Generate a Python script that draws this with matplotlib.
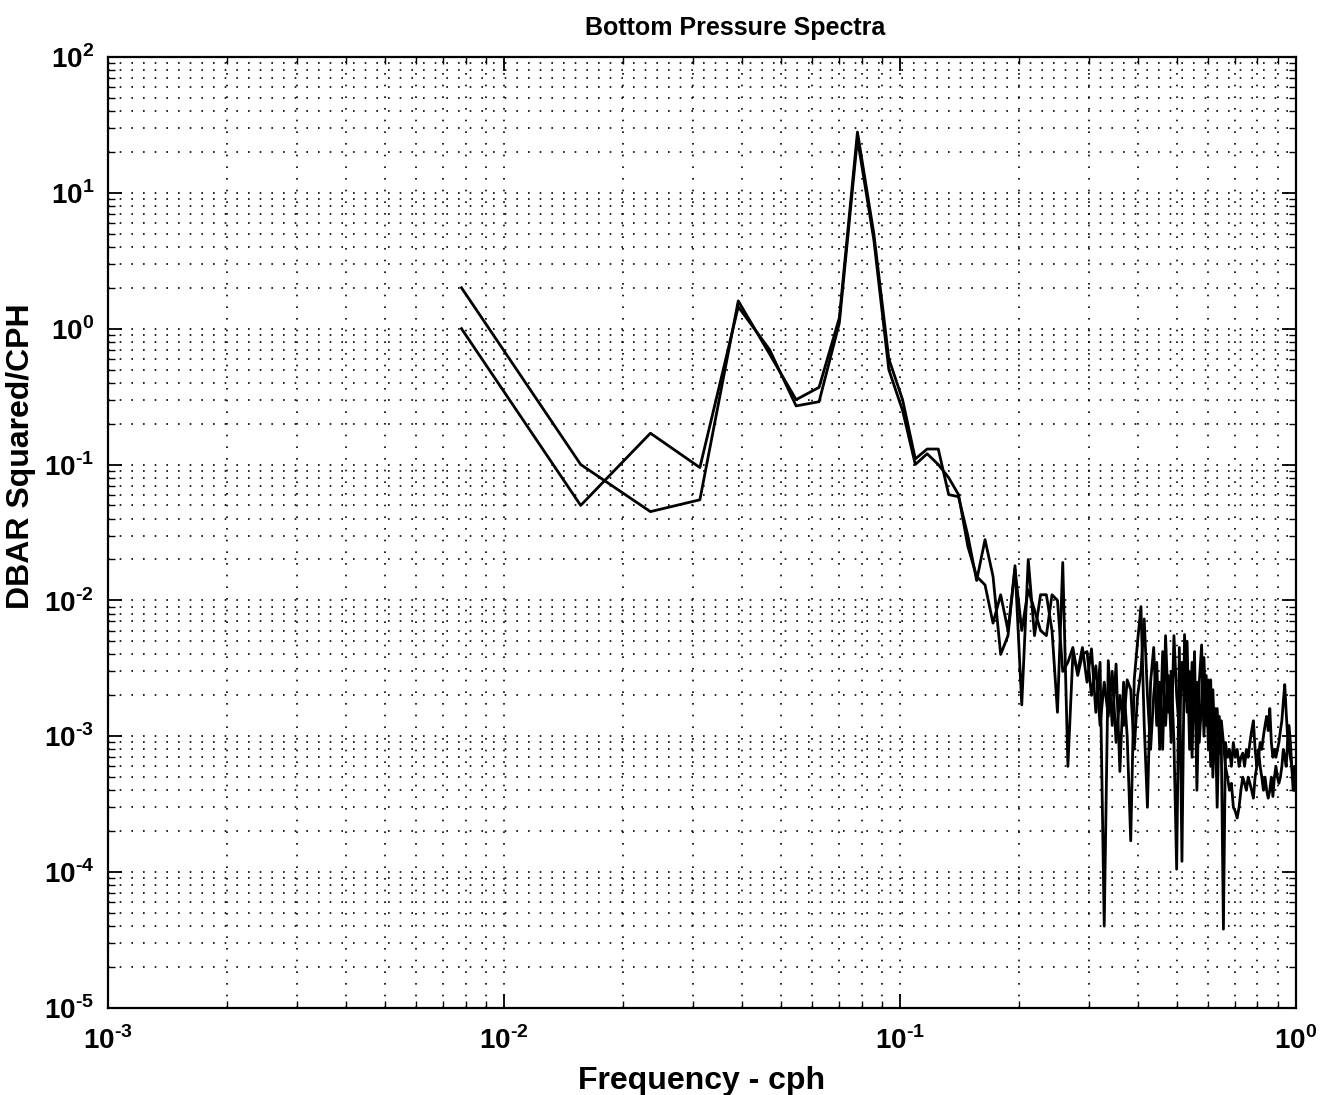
import numpy as np
import matplotlib.pyplot as plt

plt.rcParams['font.family'] = ['Liberation Sans', 'DejaVu Sans']
plt.rcParams['font.weight'] = 'bold'
plt.rcParams['mathtext.fontset'] = 'custom'
plt.rcParams['mathtext.rm'] = 'Liberation Sans:bold'
plt.rcParams['mathtext.bf'] = 'Liberation Sans:bold'

# frequency bins (cph), k/128
freq = np.arange(1, 129) / 128.0

# spectrum 1 (starts higher at lowest frequency)
spec_a = [
    2.0, 0.10, 0.045, 0.055, 1.6, 0.65, 0.30, 0.37, 1.2, 28.0,
    5.0, 0.60, 0.30, 0.11, 0.13, 0.13, 0.060, 0.058, 0.030, 0.014,
    0.028, 0.015, 0.0040, 0.0055, 0.018, 0.0017, 0.020, 0.0055, 0.011, 0.011,
    0.0060, 0.0015, 0.019, 0.0006, 0.0040, 0.0030, 0.0045, 0.0025, 0.0044, 0.0015,
    0.0035, 0.00004, 0.0036, 0.0012, 0.0034, 0.00055, 0.0025, 0.0010, 0.00017, 0.0026,
    0.0050, 0.0090, 0.0012, 0.0003, 0.0025, 0.0045, 0.0012, 0.0025, 0.0008, 0.0055,
    0.0015, 0.0030, 0.0009, 0.000105, 0.0045, 0.00012, 0.0056, 0.0015, 0.0030, 0.0007,
    0.0042, 0.0004, 0.0025, 0.0047, 0.0010, 0.0028, 0.0008, 0.0026, 0.0005, 0.0016,
    0.0003, 0.0014, 0.0008, 0.000038, 0.0009, 0.0007, 0.0008, 0.0006, 0.0009, 0.0007,
    0.0008, 0.0006, 0.0007, 0.00075, 0.0006, 0.0008, 0.0007, 0.0009, 0.0011, 0.0013,
    0.0008, 0.0006, 0.0007, 0.0009, 0.0008, 0.0010, 0.0012, 0.0014, 0.0011, 0.0016,
    0.0009, 0.0007, 0.0008, 0.0007, 0.0008, 0.0009, 0.0011, 0.0013, 0.0018, 0.0024,
    0.0015, 0.0010, 0.0008, 0.0007, 0.0006, 0.0005, 0.0006, 0.0005,
]

# spectrum 2
spec_b = [
    1.0, 0.050, 0.17, 0.095, 1.45, 0.70, 0.27, 0.29, 1.1, 25.0,
    4.5, 0.50, 0.25, 0.10, 0.12, 0.10, 0.080, 0.060, 0.025, 0.015,
    0.013, 0.0068, 0.011, 0.0060, 0.017, 0.0060, 0.012, 0.0085, 0.0060, 0.0055,
    0.011, 0.010, 0.0030, 0.0035, 0.0045, 0.0028, 0.0040, 0.0042, 0.0020, 0.0033,
    0.0012, 0.0025, 0.0014, 0.0030, 0.0009, 0.0020, 0.0012, 0.0026, 0.0022, 0.0008,
    0.0020, 0.0030, 0.0073, 0.0020, 0.0008, 0.0020, 0.0035, 0.0008, 0.0042, 0.0012,
    0.0028, 0.0009, 0.0055, 0.0020, 0.0011, 0.0035, 0.0018, 0.0050, 0.0008, 0.0035,
    0.0014, 0.0025, 0.0009, 0.0018, 0.0038, 0.0012, 0.0026, 0.0006, 0.0022, 0.0008,
    0.0016, 0.00075, 0.0013, 0.0009, 0.0006, 0.0005, 0.0004, 0.00045, 0.0003, 0.00028,
    0.00025, 0.0003, 0.0004, 0.0005, 0.00045, 0.0004, 0.0005, 0.00045, 0.0004, 0.00035,
    0.0005, 0.0006, 0.0008, 0.0006, 0.0005, 0.0004, 0.0005, 0.0004, 0.00035, 0.0004,
    0.0005, 0.00036, 0.0005, 0.0006, 0.0005, 0.00045, 0.0005, 0.0006, 0.0008, 0.0007,
    0.0006, 0.0009, 0.0012, 0.0009, 0.0006, 0.0004, 0.0004, 0.0006,
]

xticks = [1e-3, 1e-2, 1e-1, 1e0]
xtick_labels = [r'$10^{\text{-}3}$', r'$10^{\text{-}2}$', r'$10^{\text{-}1}$', r'$10^{0}$']
yticks = [1e-5, 1e-4, 1e-3, 1e-2, 1e-1, 1e0, 1e1, 1e2]
ytick_labels = [r'$10^{\text{-}5}$', r'$10^{\text{-}4}$', r'$10^{\text{-}3}$', r'$10^{\text{-}2}$',
                r'$10^{\text{-}1}$', r'$10^{0}$', r'$10^{1}$', r'$10^{2}$']

fig = plt.figure(figsize=(13.25, 10.95), dpi=100)
ax = fig.add_axes([0.0815, 0.0795, 0.8965, 0.8685])

ax.loglog(freq, spec_a, color='black', lw=2.0)
ax.loglog(freq, spec_b, color='black', lw=2.0)

ax.set_xlim(1e-3, 1)
ax.set_ylim(1e-5, 1e2)
ax.set_xticks(xticks)
ax.set_xticklabels(xtick_labels)
ax.set_yticks(yticks)
ax.set_yticklabels(ytick_labels)

dots = (0, (1.0, 6))
ax.grid(True, which='major', color='black', linestyle=dots, lw=1.2)
ax.grid(True, which='minor', color='black', linestyle=dots, lw=1.2)

ax.tick_params(which='both', direction='in', top=True, right=True, colors='black')
ax.tick_params(which='major', length=10, width=1.3, labelsize=20)
ax.tick_params(axis='x', which='major', pad=13)
ax.tick_params(axis='y', which='major', pad=10)
ax.tick_params(which='minor', length=5, width=1.0)
for s in ax.spines.values():
    s.set_linewidth(1.6)

ax.set_xlabel('Frequency - cph', fontsize=23, fontweight='bold', labelpad=8)
ax.set_ylabel('DBAR Squared/CPH', fontsize=23, fontweight='bold')
ax.yaxis.set_label_coords(-0.061, 0.58)
ax.set_title('Bottom Pressure Spectra', fontsize=18, fontweight='bold', x=0.528, pad=16)

fig.savefig('out.png', dpi=100)
